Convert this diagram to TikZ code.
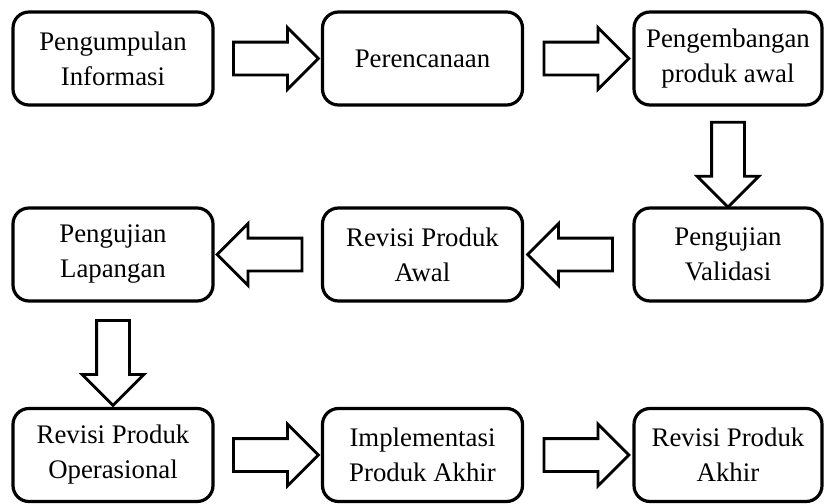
\documentclass[tikz,border=0pt]{standalone}
\usepackage{fontspec}
\setmainfont{Liberation Serif}
\usetikzlibrary{shapes.arrows}

\tikzset{
  stage/.style={draw, line width=1.6pt, rounded corners=8pt,
    minimum width=100pt, minimum height=46.5pt, align=center,
    font=\fontsize{13.4}{17.5}\selectfont},
  stage last/.style={stage, minimum width=94pt},
  flow/.style={draw, line width=1.4pt, single arrow,
    single arrow head extend=7.25pt, minimum height=42.5pt,
    inner sep=7.5pt, midway}
}

\begin{document}
\begin{tikzpicture}[x=0.5pt,y=-0.5pt]
  \useasboundingbox (0,0) rectangle (824,503);
  % Baris 1
  \node[stage] (info) at (113,58.5) {Pengumpulan\\Informasi};
  \node[stage] (rencana) at (422.5,58.5) {Perencanaan};
  \node[stage last] (awal) at (728,58.5) {Pengembangan\\produk awal};
  % Baris 2
  \node[stage last] (validasi) at (728,254.5) {Pengujian\\Validasi};
  \node[stage] (revawal) at (422.5,254.5) {Revisi Produk\\Awal};
  \node[stage] (lapangan) at (113,254.5) {Pengujian\\Lapangan};
  % Baris 3
  \node[stage] (revops) at (113,455) {Revisi Produk\\Operasional};
  \node[stage] (implement) at (422.5,455) {Implementasi\\Produk Akhir};
  \node[stage last] (revakhir) at (728,455) {Revisi Produk\\Akhir};
  %
  \path (info) -- node[flow] {} (rencana);
  \path (rencana) -- node[flow] {} (awal);
  \path (awal) -- node[flow, shape border rotate=270] {} (validasi);
  \path (validasi) -- node[flow, shape border rotate=180] {} (revawal);
  \path (revawal) -- node[flow, shape border rotate=180] {} (lapangan);
  \path (lapangan) -- node[flow, shape border rotate=270] {} (revops);
  \path (revops) -- node[flow] {} (implement);
  \path (implement) -- node[flow] {} (revakhir);
\end{tikzpicture}
\end{document}
